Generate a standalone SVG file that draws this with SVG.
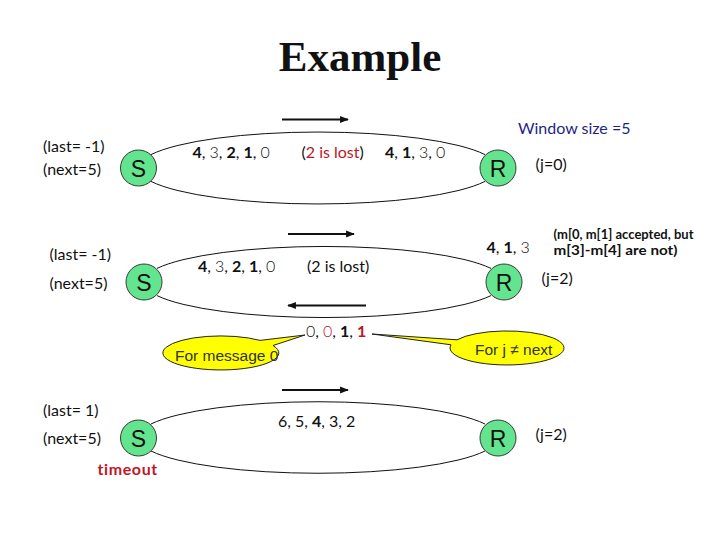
<svg xmlns="http://www.w3.org/2000/svg" width="720" height="540" viewBox="0 0 720 540">
<style>
.t{font-family:Lato,"Open Sans","DejaVu Sans",sans-serif;font-size:16px;fill:#111}
.b{font-weight:700}
.l{font-weight:300}
.red{fill:#c0161f}
.node{fill:#63e48e;stroke:#3a3a3a;stroke-width:1}
.lbl{font-family:"Liberation Sans",Arial,sans-serif;font-size:23px;fill:#111;text-anchor:middle}
.loop{fill:none;stroke:#111;stroke-width:1}
.arr{stroke:#111;stroke-width:2.2;fill:none}
.call{fill:#ffff00;stroke:#222;stroke-width:1}
.ct{font-family:"Liberation Sans",Arial,sans-serif;font-size:15.5px;fill:#333}
.sm{font-size:12.5px}
</style>
<defs>
<marker id="ah" viewBox="0 0 10 10" refX="9" refY="5" markerWidth="4" markerHeight="4" orient="auto-start-reverse">
<path d="M0,1 L10,5 L0,9 z" fill="#111"/>
</marker>
</defs>
<rect width="720" height="540" fill="#fff"/>
<text x="360" y="71" text-anchor="middle" font-family="'Liberation Serif','Times New Roman',serif" font-weight="700" font-size="43" fill="#111">Example</text>

<g id="connectors">
<path class="loop" d="M151,154.6 A180,36 0 0 1 485,154.6"/>
<path class="loop" d="M151,181.4 A180,36 0 0 0 485,181.4"/>
<path class="loop" d="M157,268.4 A180,35 0 0 1 491,268.4"/>
<path class="loop" d="M157,295.6 A180,35 0 0 0 491,295.6"/>
<path class="loop" d="M151,424 A180,35.5 0 0 1 485,424"/>
<path class="loop" d="M151,451 A180,35.5 0 0 0 485,451"/>
<line class="arr" x1="282" y1="119.5" x2="348" y2="119.5" marker-end="url(#ah)"/>
<line class="arr" x1="288" y1="234" x2="354" y2="234" marker-end="url(#ah)"/>
<line class="arr" x1="366" y1="305.5" x2="288" y2="305.5" marker-end="url(#ah)"/>
<line class="arr" x1="282" y1="390" x2="348" y2="390" marker-end="url(#ah)"/>
</g>

<g id="S1"><circle class="node" cx="138.5" cy="168" r="18"/><text class="lbl" x="138.5" y="176.5">S</text></g>
<g id="R1"><circle class="node" cx="498" cy="168" r="18"/><text class="lbl" x="498" y="176.5">R</text></g>
<g id="S2"><circle class="node" cx="144" cy="282" r="18"/><text class="lbl" x="144" y="290.5">S</text></g>
<g id="R2"><circle class="node" cx="504" cy="282" r="18"/><text class="lbl" x="504" y="290.5">R</text></g>
<g id="S3"><circle class="node" cx="138.5" cy="438" r="18"/><text class="lbl" x="138.5" y="446.5">S</text></g>
<g id="R3"><circle class="node" cx="498" cy="438" r="18"/><text class="lbl" x="498" y="446.5">R</text></g>

<g id="labels1">
<text class="t" x="43" y="152">(last= -1)</text>
<text class="t" x="43" y="175">(next=5)</text>
<text class="t" x="192.5" y="158"><tspan class="b">4</tspan>, <tspan class="l">3</tspan>, <tspan class="b">2</tspan>, <tspan class="b">1</tspan>, <tspan class="l">0</tspan></text>
<text class="t" x="301.5" y="158">(<tspan class="red">2 is lost</tspan>)</text>
<text class="t" x="385" y="158"><tspan class="b">4</tspan>, <tspan class="b">1</tspan>, <tspan class="l">3</tspan>, <tspan class="l">0</tspan></text>
<text class="t" x="518" y="133.5" style="fill:#1f1f86">Window size =5</text>
<text class="t" x="535.5" y="169.5">(j=0)</text>
</g>

<g id="labels2">
<text class="t" x="49.5" y="260">(last= -1)</text>
<text class="t" x="49.5" y="289">(next=5)</text>
<text class="t" x="198" y="271.5"><tspan class="b">4</tspan>, <tspan class="l">3</tspan>, <tspan class="b">2</tspan>, <tspan class="b">1</tspan>, <tspan class="l">0</tspan></text>
<text class="t" x="307" y="271.5">(2 is lost)</text>
<text class="t" x="486.5" y="253"><tspan class="b">4</tspan>, <tspan class="b">1</tspan>, <tspan class="l">3</tspan></text>
<text class="t b sm" x="553.5" y="238.5" textLength="140" lengthAdjust="spacingAndGlyphs">(m[0, m[1] accepted, but</text>
<text class="t b sm" x="553.5" y="254.5" textLength="124" lengthAdjust="spacingAndGlyphs">m[3]-m[4] are not)</text>
<text class="t" x="541.5" y="283.5">(j=2)</text>
<text class="t" x="306" y="337"><tspan class="l">0</tspan>, <tspan class="l red">0</tspan>, <tspan class="b">1</tspan>, <tspan class="b red">1</tspan></text>
</g>

<g id="callout1">
<path class="call" d="M305,335 L273,345.5 A58,17 0 1 1 260,340.4 Z"/>
<text class="ct" x="175" y="360.5">For message 0</text>
</g>
<g id="callout2">
<path class="call" d="M372,334 L457,339.8 A57,17 0 1 1 451,344.8 Z"/>
<text class="ct" x="475" y="355">For j ≠ next</text>
</g>

<g id="labels3">
<text class="t" x="43" y="416">(last= 1)</text>
<text class="t" x="43" y="444">(next=5)</text>
<text class="t b red" x="97.5" y="475" style="letter-spacing:0.6px">timeout</text>
<text class="t" x="278" y="427">6, 5, <tspan class="b">4</tspan>, 3, 2</text>
<text class="t" x="535.5" y="440">(j=2)</text>
</g>
</svg>
